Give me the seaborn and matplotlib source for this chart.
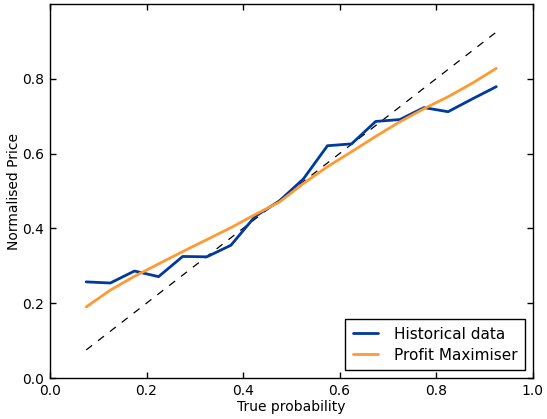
import numpy as np
import pandas as pd
import matplotlib
matplotlib.use("Agg")
import matplotlib.pyplot as plt
import seaborn as sns

true_prob = [0.075, 0.125, 0.175, 0.225, 0.275, 0.325, 0.375, 0.425, 0.475,
             0.525, 0.575, 0.625, 0.675, 0.725, 0.775, 0.825, 0.875, 0.925]
historical = [0.257, 0.254, 0.286, 0.271, 0.325, 0.324, 0.355, 0.432, 0.473,
              0.532, 0.621, 0.626, 0.686, 0.691, 0.723, 0.712, 0.746, 0.779]
profit_max = [0.190, 0.235, 0.272, 0.305, 0.338, 0.370, 0.402, 0.437, 0.470,
              0.520, 0.565, 0.605, 0.646, 0.685, 0.720, 0.752, 0.788, 0.828]
xticks = [0.0, 0.2, 0.4, 0.6, 0.8, 1.0]
yticks = [0.0, 0.2, 0.4, 0.6, 0.8]

sns.set_style("ticks", {
    "xtick.direction": "in", "ytick.direction": "in",
    "xtick.top": True, "ytick.right": True,
    "axes.edgecolor": "black", "text.color": "black",
    "axes.labelcolor": "black", "xtick.color": "black", "ytick.color": "black",
})
plt.rcParams["font.family"] = ["DejaVu Sans"]
plt.rcParams["font.size"] = 10

df = pd.DataFrame({"x": true_prob, "Historical data": historical,
                   "Profit Maximiser": profit_max})

fig = plt.figure(figsize=(5.47, 4.19), dpi=100)
ax = fig.add_axes([50/547, 1-378/419, 482.5/547, 374/419])

ax.plot(true_prob, true_prob, color="black", lw=0.9, dashes=(6, 6))
sns.lineplot(data=df, x="x", y="Historical data", ax=ax, color="#003a9c",
             lw=2.0, label="Historical data")
sns.lineplot(data=df, x="x", y="Profit Maximiser", ax=ax, color="#ff9a33",
             lw=2.0, label="Profit Maximiser")

ax.set_xlim(0, 1.0)
ax.set_ylim(0, 1.0)
ax.set_xticks(xticks)
ax.set_xticklabels([f"{v:.1f}" for v in xticks])
ax.set_yticks(yticks)
ax.set_yticklabels([f"{v:.1f}" for v in yticks])
ax.tick_params(length=4, width=1, labelsize=10, colors="black", pad=4)
for s in ax.spines.values():
    s.set_linewidth(1.0)
ax.set_xlabel("True probability", fontsize=10, labelpad=2, color="black")
ax.set_ylabel("Normalised Price", fontsize=10, labelpad=1, color="black")

leg = ax.legend(loc="lower right", fontsize=11, fancybox=False, framealpha=1,
                edgecolor="black", handlelength=1.6, borderpad=0.5,
                labelspacing=0.4, handletextpad=1.05, borderaxespad=0.5)
leg.get_frame().set_linewidth(1.0)
for t in leg.get_texts():
    t.set_color("black")

fig.savefig("out.png", dpi=100)
